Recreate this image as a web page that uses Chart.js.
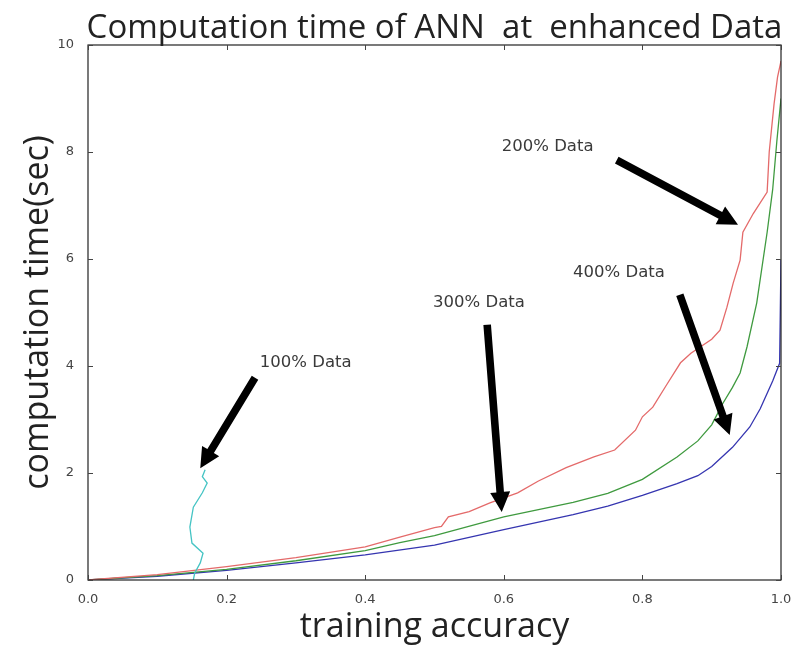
<!DOCTYPE html>
<html>
<head>
<meta charset="utf-8">
<script src="https://cdn.jsdelivr.net/npm/chart.js@4.4.1/dist/chart.umd.min.js"></script>
<style>
  html, body { margin: 0; padding: 0; background: #fff; }
  #wrap { width: 800px; height: 648px; }
</style>
</head>
<body>
<div id="wrap"><canvas id="c" width="800" height="648"></canvas></div>
<script>
// Training accuracy (x) and computation time in seconds (y) for each data size
const acc100 = [0.152, 0.154, 0.162, 0.166, 0.150, 0.147, 0.152, 0.165, 0.172, 0.165, 0.169];
const time100 = [0.00, 0.13, 0.32, 0.50, 0.69, 0.99, 1.36, 1.63, 1.81, 1.93, 2.06];

const acc200 = [0, 0.1, 0.2, 0.3, 0.4, 0.45, 0.5, 0.51, 0.52, 0.55, 0.58, 0.62, 0.65, 0.69, 0.73, 0.76, 0.79, 0.80, 0.815, 0.835, 0.855, 0.87, 0.9, 0.912, 0.922, 0.931, 0.941, 0.945, 0.96, 0.98, 0.983, 0.99, 0.995, 1.0];
const time200 = [0, 0.10, 0.25, 0.42, 0.62, 0.80, 0.98, 1.00, 1.18, 1.28, 1.44, 1.63, 1.85, 2.10, 2.30, 2.43, 2.80, 3.05, 3.23, 3.65, 4.06, 4.24, 4.50, 4.67, 5.10, 5.55, 5.98, 6.50, 6.85, 7.25, 8.00, 8.90, 9.40, 9.70];

const acc300 = [0, 0.1, 0.2, 0.3, 0.4, 0.45, 0.5, 0.6, 0.7, 0.75, 0.8, 0.85, 0.88, 0.9, 0.916, 0.93, 0.941, 0.951, 0.965, 0.98, 0.988, 0.994, 1.0];
const time300 = [0, 0.08, 0.20, 0.36, 0.55, 0.70, 0.83, 1.18, 1.45, 1.62, 1.88, 2.30, 2.60, 2.90, 3.30, 3.60, 3.87, 4.36, 5.18, 6.50, 7.30, 8.20, 9.00];

const acc400 = [0, 0.1, 0.2, 0.3, 0.4, 0.5, 0.6, 0.7, 0.75, 0.8, 0.85, 0.88, 0.9, 0.93, 0.955, 0.97, 0.988, 0.998, 1.0];
const time400 = [0, 0.07, 0.18, 0.32, 0.47, 0.65, 0.94, 1.22, 1.38, 1.58, 1.80, 1.95, 2.12, 2.48, 2.86, 3.20, 3.72, 4.05, 6.00];

const xTicks = [0.0, 0.2, 0.4, 0.6, 0.8, 1.0];
const yTicks = [0, 2, 4, 6, 8, 10];

// Annotation labels with arrow tail and tip, in data units
const noteText = ['100% Data', '200% Data', '300% Data', '400% Data'];
const noteAt = [[0.248, 4.07], [0.597, 8.09], [0.498, 5.18], [0.700, 5.74]];
const arrowFrom = [[0.241, 3.78], [0.763, 7.85], [0.576, 4.77], [0.854, 5.33]];
const arrowTo = [[0.162, 2.09], [0.938, 6.64], [0.597, 1.27], [0.926, 2.71]];

const titleText = 'Computation time of ANN  at  enhanced Data';

function pts(xs, ys) { return xs.map((x, i) => ({ x: x, y: ys[i] })); }

function series(xs, ys, color) {
  return {
    data: pts(xs, ys),
    showLine: true,
    borderColor: color,
    borderWidth: 1.3,
    pointRadius: 0,
    tension: 0,
    fill: false
  };
}

const frame = {
  id: 'frame',
  afterDatasetsDraw(chart) {
    const ctx = chart.ctx;
    const a = chart.chartArea;
    const xs = chart.scales.x, ys = chart.scales.y;
    ctx.save();
    // plot box
    ctx.strokeStyle = '#222';
    ctx.lineWidth = 1.2;
    ctx.strokeRect(a.left, a.top, a.right - a.left, a.bottom - a.top);
    // inward ticks on all four sides
    ctx.strokeStyle = '#444';
    ctx.lineWidth = 1;
    ctx.beginPath();
    xTicks.forEach(v => {
      const px = Math.round(xs.getPixelForValue(v)) + 0.5;
      ctx.moveTo(px, a.bottom); ctx.lineTo(px, a.bottom - 5);
      ctx.moveTo(px, a.top); ctx.lineTo(px, a.top + 5);
    });
    yTicks.forEach(v => {
      const py = Math.round(ys.getPixelForValue(v)) + 0.5;
      ctx.moveTo(a.left, py); ctx.lineTo(a.left + 5, py);
      ctx.moveTo(a.right, py); ctx.lineTo(a.right - 5, py);
    });
    ctx.stroke();

    // arrows
    ctx.fillStyle = '#000';
    for (let i = 0; i < arrowFrom.length; i++) {
      const x0 = xs.getPixelForValue(arrowFrom[i][0]), y0 = ys.getPixelForValue(arrowFrom[i][1]);
      const x1 = xs.getPixelForValue(arrowTo[i][0]), y1 = ys.getPixelForValue(arrowTo[i][1]);
      const dx = x1 - x0, dy = y1 - y0;
      const len = Math.hypot(dx, dy);
      const ux = dx / len, uy = dy / len;
      const nx = -uy, ny = ux;
      const shaft = 3.8, head = 10, headLen = 20;
      const bx = x1 - ux * headLen, by = y1 - uy * headLen;
      ctx.beginPath();
      ctx.moveTo(x0 + nx * shaft, y0 + ny * shaft);
      ctx.lineTo(bx + nx * shaft, by + ny * shaft);
      ctx.lineTo(bx + nx * head, by + ny * head);
      ctx.lineTo(x1, y1);
      ctx.lineTo(bx - nx * head, by - ny * head);
      ctx.lineTo(bx - nx * shaft, by - ny * shaft);
      ctx.lineTo(x0 - nx * shaft, y0 - ny * shaft);
      ctx.closePath();
      ctx.fill();
    }

    // annotation labels
    ctx.fillStyle = '#3a3a3a';
    ctx.font = '16.5px "DejaVu Sans", sans-serif';
    ctx.textAlign = 'left';
    ctx.textBaseline = 'middle';
    noteText.forEach((t, i) => {
      ctx.fillText(t, xs.getPixelForValue(noteAt[i][0]), ys.getPixelForValue(noteAt[i][1]));
    });

    // title centred over the plot
    ctx.fillStyle = '#222';
    ctx.font = '33px "Open Sans", sans-serif';
    ctx.textAlign = 'center';
    ctx.textBaseline = 'alphabetic';
    ctx.fillText(titleText, (a.left + a.right) / 2, 38);
    ctx.restore();
  }
};

new Chart(document.getElementById('c'), {
  type: 'scatter',
  data: {
    datasets: [
      series(acc100, time100, '#45c4c4'),
      series(acc200, time200, '#e46a6a'),
      series(acc300, time300, '#3f9a3f'),
      series(acc400, time400, '#3535b0')
    ]
  },
  options: {
    responsive: false,
    animation: false,
    layout: { padding: { left: 0, right: 19, top: 45, bottom: 0 } },
    plugins: {
      legend: { display: false },
      tooltip: { enabled: false },
      title: { display: false }
    },
    scales: {
      x: {
        type: 'linear',
        min: 0, max: 1,
        afterFit(s) { s.height = 68; },
        afterBuildTicks(s) { s.ticks = xTicks.map(v => ({ value: v })); },
        grid: { display: false },
        border: { display: false },
        ticks: {
          padding: 4,
          color: '#444',
          font: { family: 'DejaVu Sans', size: 13 },
          callback: v => Number(v).toFixed(1)
        },
        title: {
          display: true,
          text: 'training accuracy',
          color: '#222',
          font: { family: 'Open Sans', size: 34 },
          padding: { top: 0, bottom: 0 }
        }
      },
      y: {
        type: 'linear',
        min: 0, max: 10,
        afterFit(s) { s.width = 88; },
        afterBuildTicks(s) { s.ticks = yTicks.map(v => ({ value: v })); },
        grid: { display: false },
        border: { display: false },
        ticks: {
          padding: 6,
          color: '#444',
          font: { family: 'DejaVu Sans', size: 13 },
          callback: v => String(v)
        },
        title: {
          display: true,
          text: 'computation time(sec)',
          color: '#222',
          font: { family: 'Open Sans', size: 34 },
          padding: { top: 18, bottom: 0 }
        }
      }
    }
  },
  plugins: [frame]
});
</script>
</body>
</html>
